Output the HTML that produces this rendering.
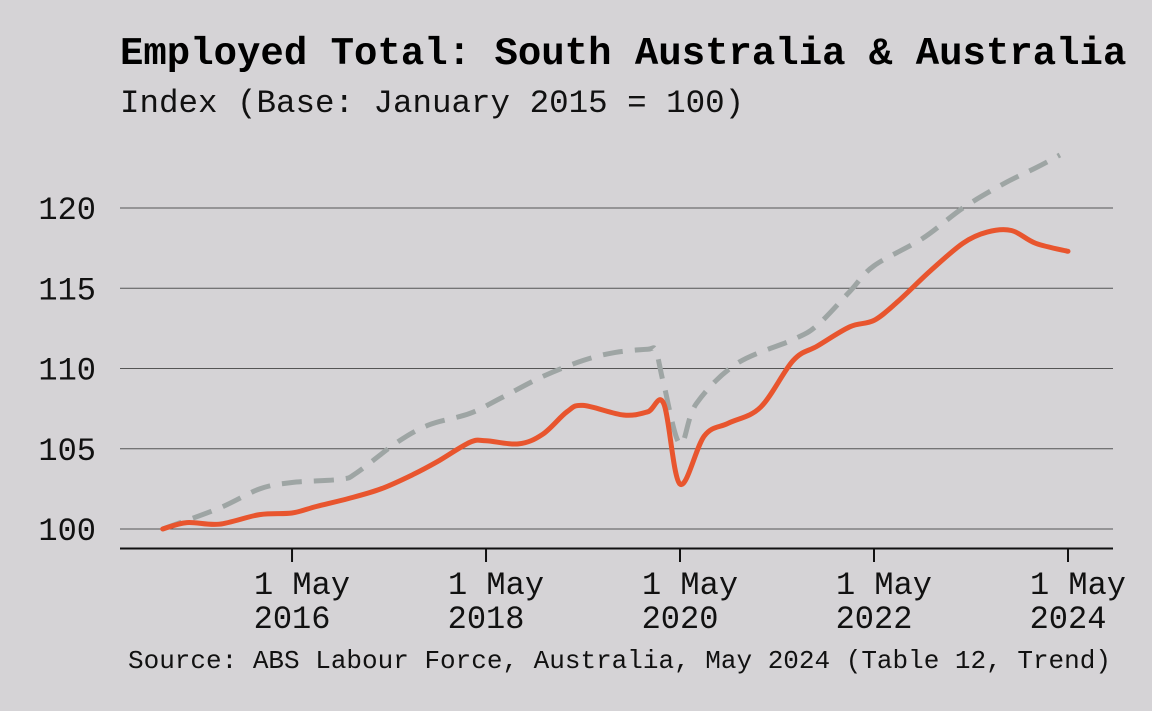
<!DOCTYPE html>
<html><head><meta charset="utf-8"><style>
body{margin:0;background:#d5d3d6;}
svg{display:block;font-family:"Liberation Mono",monospace;}
</style></head><body>
<svg width="1152" height="711" viewBox="0 0 1152 711">
<rect width="1152" height="711" fill="#d5d3d6"/>
<text x="120" y="64" font-size="39" font-weight="bold" fill="#000">Employed Total: South Australia &amp; Australia</text>
<text x="120" y="112" font-size="32.5" fill="#111">Index (Base: January 2015 = 100)</text>
<g id="grid"></g>
<g id="yt"></g>
<g id="xt"></g>
<g id="series"></g>
<text x="128" y="668" font-size="26" fill="#111">Source: ABS Labour Force, Australia, May 2024 (Table 12, Trend)</text>
</svg>
<script>
const yTicks=[100,105,110,115,120];
const xTickMonths=[16,40,64,88,112];
const xTickYears=["2016","2018","2020","2022","2024"];
const saMonths=[0,3,7,12,16,19,23,27,31,34,38,40,44,47,50,52,57,60,62,64,67,70,74,78,81,85,88,91,95,99,102,105,108,112];
const saValues=[100,100.4,100.3,100.9,101.0,101.4,101.9,102.5,103.4,104.2,105.4,105.5,105.3,105.9,107.3,107.7,107.1,107.3,107.8,102.8,105.8,106.6,107.6,110.5,111.4,112.6,113.0,114.2,116.1,117.8,118.5,118.6,117.8,117.3];
const auMonths=[0,7,12,16,22,24,29,33,38,42,47,52,56,60,61,62,64,66,71,78,81,85,88,94,99,104,108,111];
const auValues=[100,101.3,102.5,102.9,103.1,103.5,105.4,106.5,107.2,108.2,109.5,110.5,111.0,111.2,111.1,109,105.3,107.8,110.3,111.8,112.7,114.8,116.4,118.1,120.0,121.5,122.5,123.3];
const NS='http://www.w3.org/2000/svg';
const X=m=>162.7+m*8.083;
const Y=v=>529-(v-100)*16.05;
function mk(t,a,p){const e=document.createElementNS(NS,t);for(const k in a)e.setAttribute(k,a[k]);p.appendChild(e);return e;}
const grid=document.getElementById('grid'),yt=document.getElementById('yt'),xt=document.getElementById('xt'),ser=document.getElementById('series');
yTicks.forEach(v=>{
 const l=mk('line',{x1:120,x2:1113,y1:Y(v),y2:Y(v),stroke:'#555','stroke-width':1},grid);
 
 
 const t=mk('text',{x:96,y:Y(v)+11,'font-size':32,'text-anchor':'end',fill:'#111'},yt);
 t.textContent=v;
 
 
});
const ax=mk('line',{x1:120,x2:1113,y1:548.5,y2:548.5,stroke:'#111','stroke-width':2},xt);


xTickMonths.forEach((m,i)=>{
 const x=X(m);
 const tk=mk('line',{x1:x,x2:x,y1:548,y2:562,stroke:'#111','stroke-width':2},xt);
 
 
 const t1=mk('text',{x:x+10,y:594,'font-size':32,'text-anchor':'middle',fill:'#111'},xt);
 t1.textContent='1 May';
 
 
 const t2=mk('text',{x:x,y:628,'font-size':32,'text-anchor':'middle',fill:'#111'},xt);
 t2.textContent=xTickYears[i];
 
 
});
function path(ms,vs){
 const p=ms.map((m,i)=>[X(m),Y(vs[i])]);
 let d='M'+p[0][0].toFixed(1)+','+p[0][1].toFixed(1);
 const k=1/6;
 for(let i=0;i<p.length-1;i++){
  const p0=p[Math.max(0,i-1)],p1=p[i],p2=p[i+1],p3=p[Math.min(p.length-1,i+2)];
  const c1=[p1[0]+(p2[0]-p0[0])*k,p1[1]+(p2[1]-p0[1])*k];
  const c2=[p2[0]-(p3[0]-p1[0])*k,p2[1]-(p3[1]-p1[1])*k];
  d+=' C'+c1.map(v=>v.toFixed(1))+' '+c2.map(v=>v.toFixed(1))+' '+p2.map(v=>v.toFixed(1));
 }
 return d;
}
const au=mk('path',{d:path(auMonths,auValues),fill:'none',stroke:'#9ea5a4','stroke-width':5,'stroke-dasharray':'20,12','stroke-linejoin':'round'},ser);


const sa=mk('path',{d:path(saMonths,saValues),fill:'none',stroke:'#e8552e','stroke-width':5,'stroke-linejoin':'round','stroke-linecap':'round'},ser);


</script>
</body></html>
